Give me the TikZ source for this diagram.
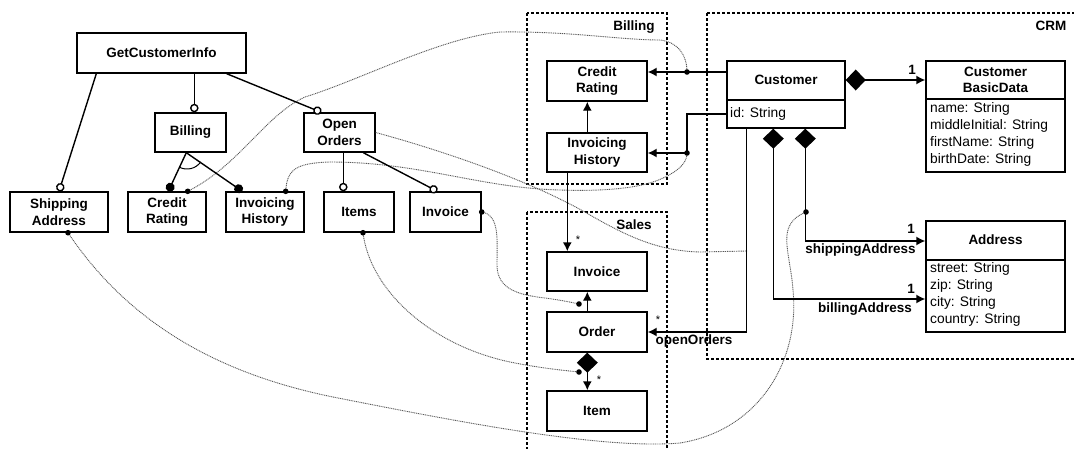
\documentclass[tikz,border=0pt]{standalone}
\usepackage{fontspec}
\setmainfont{Liberation Sans}
\usetikzlibrary{arrows.meta,calc}
\begin{document}
\begin{tikzpicture}[x=1pt,y=-1pt,
  box/.style={draw, line width=1.4pt, fill=white, align=center, inner sep=0pt, font=\bfseries\fontsize{13.5}{16.5}\selectfont},
  cls/.style={draw, line width=1.4pt, fill=white, inner sep=0pt},
  ttl/.style={align=center, inner sep=0pt, font=\bfseries\fontsize{13.5}{16.5}\selectfont},
  attr/.style={align=left, inner sep=0pt, anchor=north west, font=\fontsize{13.8}{17}\selectfont},
  lbl/.style={inner sep=0pt, font=\bfseries\fontsize{13.5}{16}\selectfont},
  star/.style={inner sep=0pt, font=\fontsize{11}{12}\selectfont},
  grp/.style={draw, line width=1.2pt, dash pattern=on 3pt off 2pt},
  trace/.style={draw=black!65, line width=0.9pt, dash pattern=on 1pt off 0.8pt},
  conn/.style={line width=1.4pt},
  arr/.style={-{Latex[length=9pt,width=9pt]}},
  ocirc/.style={-{Circle[open,fill=white,length=8.5pt,width=8.5pt]}},
  fcirc/.style={-{Circle[length=9pt,width=9pt]}},
  comp/.style={{Diamond[length=20pt,width=21pt]}-{Latex[length=9pt,width=9pt]}},
  dot/.style={fill=black}
]
\useasboundingbox (0,0) rectangle (1074,448);

% ---------- group boxes
\draw[grp] (527,13) rectangle (667,184);
\draw[grp] (527,212) rectangle (667,470);
\draw[grp] (707,13) rectangle (1090,359);
\node[lbl] (gBill) at (634,27) {Billing};
\node[lbl] (gSales) at (634,225) {Sales};
\node[lbl] (gCRM) at (1051,26) {CRM};

% ---------- junction coordinates
\coordinate (jCR) at (687,72);
\coordinate (jIH) at (687,153);
\coordinate (jOrd) at (579,304);
\coordinate (jItem) at (579,372);
\coordinate (jShipA) at (806,212);
\coordinate (jOO) at (747,251);

% ---------- left tree nodes
\node[box, minimum width=169pt, minimum height=40pt] (gci) at (161.5,53) {GetCustomerInfo};
\node[box, minimum width=71pt, minimum height=39pt] (billL) at (190.5,132.5) {Billing};
\node[box, minimum width=71pt, minimum height=39pt] (oo) at (339.5,132.5) {Open\\Orders};
\node[box, minimum width=98pt, minimum height=40pt] (ship) at (59,212) {Shipping\\Address};
\node[box, minimum width=78pt, minimum height=40pt] (crL) at (167,212) {Credit\\Rating};
\node[box, minimum width=78pt, minimum height=40pt] (ihL) at (265,212) {Invoicing\\History};
\node[box, minimum width=70pt, minimum height=40pt] (items) at (359,212) {Items};
\node[box, minimum width=71pt, minimum height=40pt] (invL) at (445.5,212) {Invoice};

\coordinate (dCR) at ($(crL.north east)+(-19,0)$);
\coordinate (dIH) at ($(ihL.north east)+(-19,0)$);
\coordinate (dInv) at (invL.east);
\coordinate (dItems) at ($(items.south)+(4,0)$);
\coordinate (dShip) at ($(ship.south)+(9,0)$);

% ---------- traces (dotted)
\draw[trace] (dCR) .. controls (240,165) and (265,115) .. (305,97)
  .. controls (360,80) and (440,38) .. (500,32)
  .. controls (570,31) and (620,40) .. (660,40)
  .. controls (678,42) and (687,55) .. (jCR);
\draw[trace] (dIH) .. controls (287,170) and (295,163) .. (330,162)
  .. controls (420,162) and (480,188) .. (560,190)
  .. controls (620,192) and (650,185) .. (665,177)
  .. controls (680,170) and (687,162) .. (jIH);
\draw[trace] (oo.east) .. controls (440,150) and (530,180) .. (590,215)
  .. controls (630,238) and (660,251) .. (700,252) -- (jOO);
\draw[trace] (dInv) .. controls (500,215) and (497,240) .. (497,265)
  .. controls (497,290) and (520,295) .. (545,298)
  .. controls (560,300) and (570,302) .. (jOrd);
\draw[trace] (dItems) .. controls (370,290) and (430,345) .. (510,362)
  .. controls (540,368) and (560,370) .. (jItem);
\draw[trace] (dShip) .. controls (120,310) and (200,370) .. (333,397)
  .. controls (450,420) and (600,450) .. (680,443)
  .. controls (760,430) and (800,360) .. (793,290)
  .. controls (790,250) and (775,225) .. (jShipA);

% ---------- right side nodes
\node[box, minimum width=100pt, minimum height=40pt] (crR) at (597,81) {Credit\\Rating};
\node[box, minimum width=100pt, minimum height=39pt] (ihR) at (597,152.5) {Invoicing\\History};
\node[box, minimum width=100pt, minimum height=39pt] (invR) at (597,271.5) {Invoice};
\node[box, minimum width=100pt, minimum height=40pt] (order) at (597,332) {Order};
\node[box, minimum width=100pt, minimum height=40pt] (item) at (597,411) {Item};

\node[cls, minimum width=118pt, minimum height=67pt] (cust) at (786,94.5) {};
\draw[line width=1.4pt] (cust.west |- 0,100) -- (cust.east |- 0,100);
\node[ttl] (custT) at (786,80) {Customer};
\node[attr, anchor=west] (custid) at (730,114) {id: String};

\node[cls, minimum width=139pt, minimum height=111pt] (cbd) at (995.5,116.5) {};
\draw[line width=1.4pt] (cbd.west |- 0,99) -- (cbd.east |- 0,99);
\node[ttl] (cbdT) at (995.5,80) {Customer\\BasicData};
\node[attr] (cbdA) at (930,102) {name: String\\middleInitial: String\\firstName: String\\birthDate: String};

\node[cls, minimum width=139pt, minimum height=111pt] (addr) at (995.5,276.5) {};
\draw[line width=1.4pt] (addr.west |- 0,260) -- (addr.east |- 0,260);
\node[ttl] (addrT) at (995.5,240) {Address};
\node[attr] (addrA) at (930,262) {street: String\\zip: String\\city: String\\country: String};

% ---------- left tree connectors
\draw[conn, ocirc] ($(gci.south west)+(20,0)$) -- (ship.north);
\draw[conn, ocirc] ($(gci.south west)+(118,0)$) -- ($(billL.north west)+(40,0)$);
\draw[conn, ocirc] ($(gci.south east)+(-20,0)$) -- ($(oo.north west)+(18,0)$);
\draw[conn, fcirc] ($(billL.south west)+(32,0)$) -- ($(crL.north west)+(41,0)$);
\draw[conn, fcirc] ($(billL.south west)+(32,0)$) -- ($(ihL.north west)+(17,0)$);
\draw[line width=1pt] (179.4,167.2) .. controls (186.9,171.0) and (195.9,168.7) .. (200.8,161.9);
\draw[conn, ocirc] ($(oo.south west)+(40,0)$) -- ($(items.north west)+(20,0)$);
\draw[conn, ocirc] ($(oo.south west)+(60,0)$) -- ($(invL.north west)+(28,0)$);

% ---------- right side connectors
\draw[conn, arr] (cust.west |- jCR) -- (crR.east |- jCR);
\draw[conn, arr] (cust.west |- custid) -- (jIH |- custid) -- (jIH) -- (ihR.east |- jIH);
\draw[conn, arr] ($(ihR.north west)+(41,0)$) -- ($(crR.south west)+(41,0)$);
\draw[conn, arr] ($(ihR.south west)+(21,0)$) -- ($(invR.north west)+(21,0)$);
\draw[conn, arr] ($(order.north west)+(41,0)$) -- ($(invR.south west)+(41,0)$);
\draw[conn, comp] ($(order.south west)+(41,0)$) -- ($(item.north west)+(41,0)$);
\draw[conn, comp] (cust.east |- custT) -- (cbd.west |- custT);
\coordinate (bA) at ($(addr.west)+(0,22.5)$);
\coordinate (sA) at ($(addr.west)+(0,-35.5)$);
\draw[conn, comp] ($(cust.south west)+(47,0)$) |- (bA);
\draw[conn, comp] ($(cust.south west)+(79,0)$) |- (sA);
\draw[conn, arr] ($(cust.south west)+(20,0)$) |- (order.east);

% ---------- dots
\foreach \p in {dCR,dIH,dInv,dItems,dShip,jCR,jIH,jOrd,jItem,jShipA}
  \fill (\p) circle[radius=2.8pt];

% ---------- labels
\node[lbl] (l1a) at (912,70) {1};
\node[lbl] (l1b) at (911,229) {1};
\node[lbl] (l1c) at (911,289) {1};
\node[lbl] (lship) at (860.5,250) {shippingAddress};
\node[lbl] (lbill) at (865,309) {billingAddress};
\node[lbl] (lopen) at (694,341) {openOrders};
\node[star] (s1) at (658,320) {*};
\node[star] (s2) at (578,240) {*};
\node[star] (s3) at (599,380) {*};
\end{tikzpicture}
\end{document}
